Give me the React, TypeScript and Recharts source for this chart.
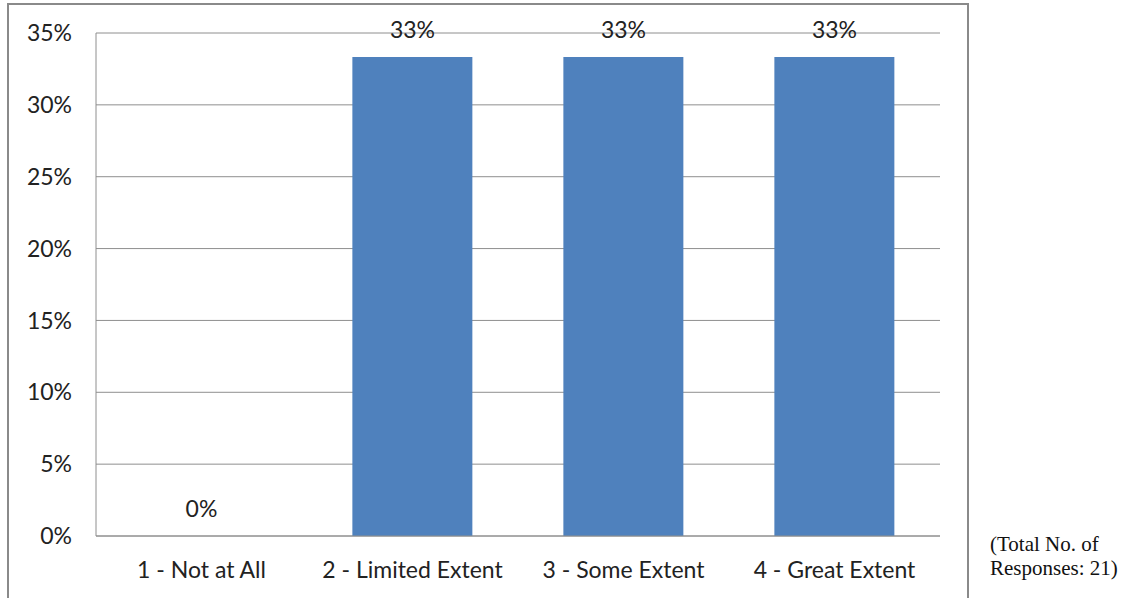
import { ComposedChart, Bar, Line, XAxis, YAxis, CartesianGrid, LabelList } from 'recharts';

const categories = ['1 - Not at All', '2 - Limited Extent', '3 - Some Extent', '4 - Great Extent'];
const percentages = [0, 33.33, 33.33, 33.33];
const yTicks = [0, 5, 10, 15, 20, 25, 30, 35];
const noteLines = ['(Total No. of', 'Responses: 21)'];

const data = categories.map((name, i) => ({ name, value: percentages[i] }));

const FONT = 'Lato, "Open Sans", sans-serif';
const GRID = '#8e8e8e';

const App = () => {
  return (
    <div style={{ position: 'absolute', left: 0, top: 0, width: 1132, height: 598, overflow: 'hidden', background: '#fff' }}>
      {/* chart frame, bottom edge cut off in the original */}
      <div
        style={{
          position: 'absolute',
          left: 7,
          top: 3,
          width: 958,
          height: 700,
          border: '2px solid #8a8a8a',
        }}
      />
      <div style={{ position: 'absolute', left: 0, top: 0 }}>
        <ComposedChart
          width={1132}
          height={598}
          data={data}
          margin={{ top: 33, right: 192, left: 0, bottom: 22 }}
          barCategoryGap="21.5%"
        >
          <CartesianGrid vertical={false} stroke={GRID} strokeWidth={1} />
          <XAxis
            dataKey="name"
            height={40}
            stroke={GRID}
            tickLine={false}
            tickSize={20}
            tickMargin={6}
            tick={{ fontSize: 23, fill: '#222', fontFamily: FONT }}
            interval={0}
          />
          <YAxis
            width={96}
            domain={[0, 35]}
            ticks={yTicks}
            stroke={GRID}
            tickLine={false}
            tickSize={20}
            tickMargin={4}
            tickFormatter={(v: number) => `${v}%`}
            tick={{ fontSize: 23, fill: '#222', fontFamily: FONT }}
          />
          <Bar dataKey="value" fill="#4F81BD" isAnimationActive={false} />
          {/* invisible line only carries the value labels, so the 0% one shows too */}
          <Line
            dataKey="value"
            stroke="none"
            dot={false}
            activeDot={false}
            legendType="none"
            isAnimationActive={false}
          >
            <LabelList
              dataKey="value"
              position="top"
              offset={19}
              formatter={(v: number) => `${Math.round(v)}%`}
              style={{ fontSize: 23, fill: '#222', fontFamily: FONT }}
            />
          </Line>
        </ComposedChart>
      </div>
      <div
        style={{
          position: 'absolute',
          left: 990,
          top: 532,
          fontFamily: '"Liberation Serif", "Times New Roman", serif',
          fontSize: 21,
          lineHeight: '24px',
          color: '#111',
        }}
      >
        {noteLines.map((t) => (
          <div key={t}>{t}</div>
        ))}
      </div>
    </div>
  );
};

export default App;
